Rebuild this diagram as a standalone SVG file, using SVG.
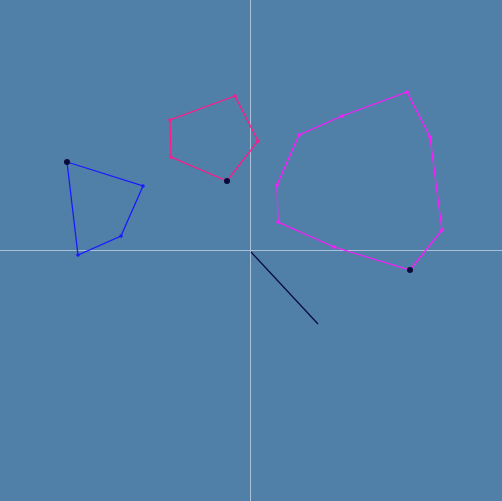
<svg xmlns="http://www.w3.org/2000/svg" width="502" height="501" viewBox="0 0 502 501">
<style>
.ax{stroke:#a9c0d8;stroke-width:1;fill:none}
.poly{fill:none;stroke-width:1.3}
.blue{stroke:#1a1aff}
.blue-pt{fill:#1a1aff}
.pink{stroke:#ff1a8c}
.pink-pt{fill:#ff1a8c}
.mag{stroke:#ff1aff}
.mag-pt{fill:#ff1aff}
.big{fill:#0a0a3a}
</style>
<rect x="0" y="0" width="502" height="501" fill="#5080a8"/>
<g id="axes">
<line class="ax" x1="250.5" y1="0" x2="250.5" y2="501"/>
<line class="ax" x1="0" y1="250.5" x2="502" y2="250.5"/>
</g>
<g id="connectors">
<line x1="251" y1="252" x2="318" y2="324" stroke="#0a0a3a" stroke-width="1.2"/>
</g>
<g id="blue-poly">
<polygon class="poly blue" points="67,162 143,186 121,236 78,255"/>
<circle class="blue-pt" cx="143" cy="186" r="1.8"/>
<circle class="blue-pt" cx="121" cy="236" r="1.8"/>
<circle class="blue-pt" cx="78" cy="255" r="1.8"/>
<circle class="big" cx="67" cy="162" r="3"/>
</g>
<g id="pink-poly">
<polygon class="poly pink" points="235,96 258,141 227,181 171,157 170,120"/>
<circle class="pink-pt" cx="235" cy="96" r="1.8"/>
<circle class="pink-pt" cx="258" cy="141" r="1.8"/>
<circle class="pink-pt" cx="171" cy="157" r="1.8"/>
<circle class="pink-pt" cx="170" cy="120" r="1.8"/>
<circle class="big" cx="227" cy="181" r="3"/>
</g>
<g id="magenta-poly">
<polygon class="poly mag" points="407,92 430,137 442,230 410,270 334,247 278,222 277,185 299,135 342,116"/>
<circle class="mag-pt" cx="407" cy="92" r="1.8"/>
<circle class="mag-pt" cx="430" cy="137" r="1.8"/>
<circle class="mag-pt" cx="442" cy="230" r="1.8"/>
<circle class="mag-pt" cx="334" cy="247" r="1.8"/>
<circle class="mag-pt" cx="278" cy="222" r="1.8"/>
<circle class="mag-pt" cx="277" cy="185" r="1.8"/>
<circle class="mag-pt" cx="299" cy="135" r="1.8"/>
<circle class="mag-pt" cx="342" cy="116" r="1.8"/>
<circle class="big" cx="410" cy="270" r="3"/>
</g>
</svg>
